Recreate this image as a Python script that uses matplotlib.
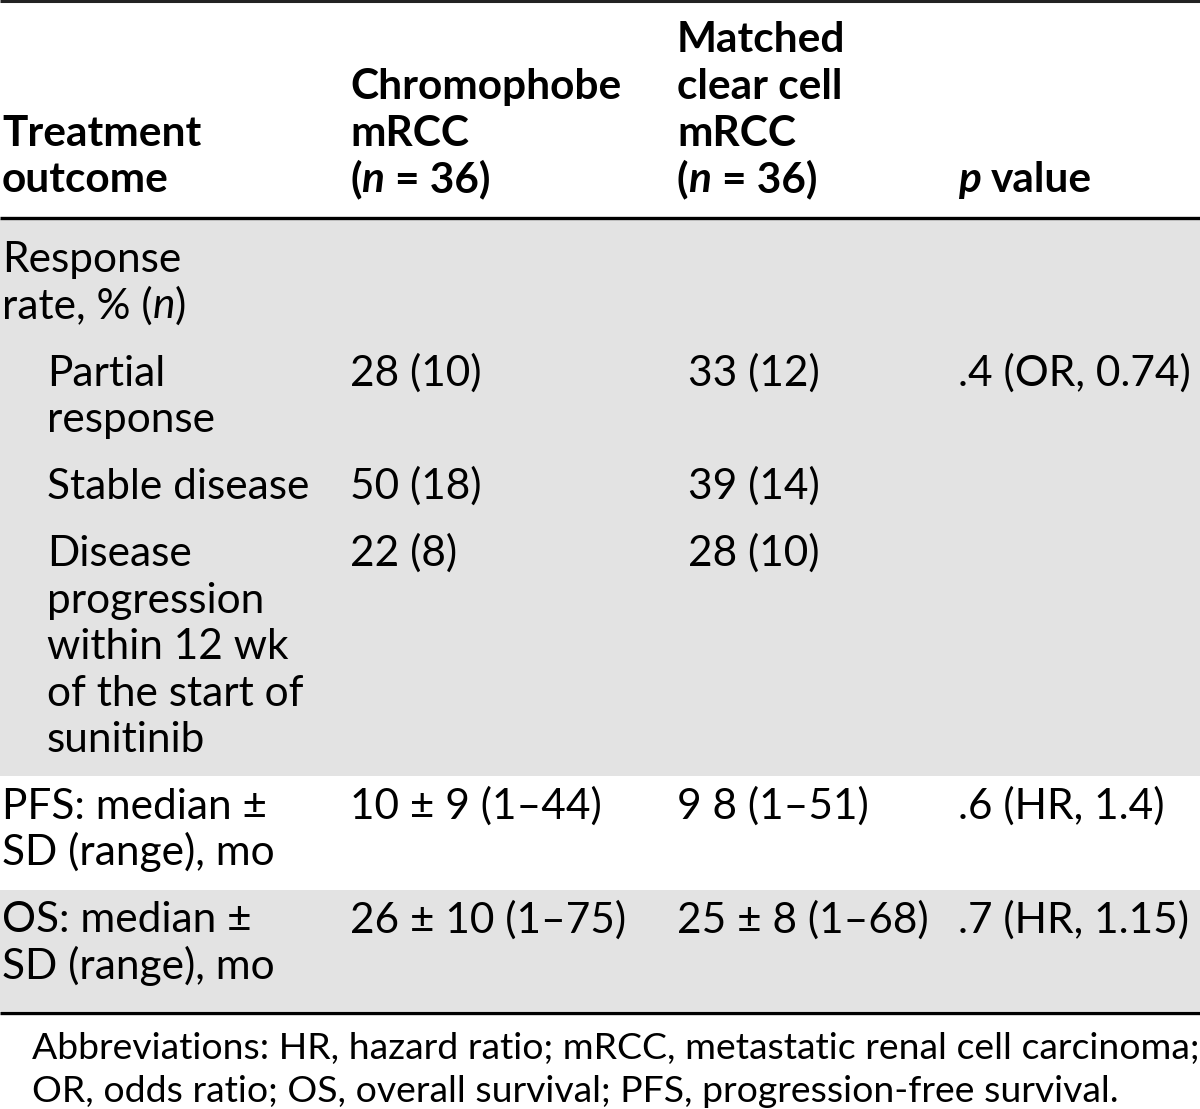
import matplotlib.pyplot as plt
from matplotlib.patches import Rectangle

plt.rcParams['font.family'] = ['Lato', 'DejaVu Sans']

# Table content (text between *...* is italic)
header_cells = [
    "Treatment\noutcome",
    "Chromophobe\nmRCC\n(*n* = 36)",
    "Matched\nclear cell\nmRCC\n(*n* = 36)",
    "*p* value",
]
row_labels = [
    "Response\nrate, % (*n*)",
    "Partial\nresponse",
    "Stable disease",
    "Disease\nprogression\nwithin 12 wk\nof the start of\nsunitinib",
    "PFS: median ±\nSD (range), mo",
    "OS: median ±\nSD (range), mo",
]
row_indent = [False, True, True, True, False, False]
chromophobe = ["", "28 (10)", "50 (18)", "22 (8)", "10 ± 9 (1–44)", "26 ± 10 (1–75)"]
clear_cell = ["", " 33 (12)", " 39 (14)", " 28 (10)", "9 8 (1–51)", "25 ± 8 (1–68)"]
p_values = ["", ".4 (OR, 0.74)", "", "", ".6 (HR, 1.4)", ".7 (HR, 1.15)"]
row_group = [0, 0, 0, 0, 1, 2]
group_shaded = [True, False, True]
footnote = ["Abbreviations: HR, hazard ratio; mRCC, metastatic renal cell carcinoma;",
            "OR, odds ratio; OS, overall survival; PFS, progression-free survival."]

W, H = 1200, 1109
FS = 30.5
FS_NOTE = 26.9
LINE = 46.5
GREY = '#e3e3e3'
col_x = [2, 350, 677, 958]
indent_x = 47

fig = plt.figure(figsize=(W / 100, H / 100), dpi=100)
ax = fig.add_axes([0, 0, 1, 1])
ax.set_xlim(0, W)
ax.set_ylim(H, 0)
ax.axis('off')
fig.canvas.draw()
renderer = fig.canvas.get_renderer()


def text_width(s, size, **kw):
    t = ax.text(0, 0, s, fontsize=size, **kw)
    bb = t.get_window_extent(renderer)
    t.remove()
    return bb.width


def draw_line(x, y, s, weight='normal', size=FS):
    # draw one line with *italic* runs, baseline at y
    space_w = text_width("n n", size, fontweight=weight) - text_width("nn", size, fontweight=weight)
    parts = s.split('*')
    for i, part in enumerate(parts):
        if part == "":
            continue
        style = 'italic' if i % 2 == 1 else 'normal'
        body = part.strip(' ')
        x += (len(part) - len(part.lstrip(' '))) * space_w
        if body:
            ax.text(x, y, body, fontsize=size, fontweight=weight, fontstyle=style,
                    ha='left', va='baseline', color='black')
            x += text_width(body, size, fontweight=weight, fontstyle=style)
            x += (len(part) - len(part.rstrip(' '))) * space_w


BASE = 12  # baseline offset below line centre

# header, bottom aligned
header_last = 180
for cx, cell in zip(col_x, header_cells):
    lines = cell.split('\n')
    for k, ln in enumerate(lines):
        yc = header_last - (len(lines) - 1 - k) * LINE
        draw_line(cx, yc + BASE, ln, weight='bold')

# body rows
rule_header = 217.5
y_top = rule_header + 42.5
centres = []
for lab in row_labels:
    n = lab.count('\n') + 1
    centres.append([y_top + k * LINE for k in range(n)])
    y_top += n * LINE + 20.5

# shaded bands per group
band_top = rule_header + 1.5
for g in range(len(group_shaded)):
    idx = [i for i in range(len(row_labels)) if row_group[i] == g]
    last_c = centres[idx[-1]][-1]
    band_bot = last_c + (44 if g == len(group_shaded) - 1 else 36)
    if group_shaded[g]:
        ax.add_patch(Rectangle((0, band_top), W, band_bot - band_top,
                               facecolor=GREY, edgecolor='none', zorder=0))
    band_top = band_bot
bottom_rule = band_top + 1.5

for i, lab in enumerate(row_labels):
    x0 = indent_x if row_indent[i] else col_x[0]
    for k, ln in enumerate(lab.split('\n')):
        draw_line(x0, centres[i][k] + BASE, ln)
    for cx, val in zip(col_x[1:], [chromophobe[i], clear_cell[i], p_values[i]]):
        if val:
            draw_line(cx, centres[i][0] + BASE, val)

# rules
ax.plot([0, W], [1, 1], color='#222222', lw=2.2, solid_capstyle='butt')
ax.plot([0, W], [rule_header, rule_header], color='black', lw=2.4, solid_capstyle='butt')
ax.plot([0, W], [bottom_rule, bottom_rule], color='black', lw=2.4, solid_capstyle='butt')

# footnote
for k, ln in enumerate(footnote):
    draw_line(32, bottom_rule + 34 + k * 43 + 12, ln, size=FS_NOTE)

fig.savefig('out.png', dpi=100)
